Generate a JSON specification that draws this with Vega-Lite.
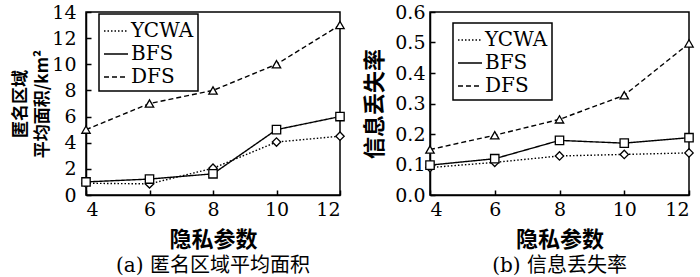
{
  "$schema": "https://vega.github.io/schema/vega-lite/v6.json",
  "background": "white",
  "padding": {"left": 11, "top": 2, "right": 4, "bottom": 0},
  "spacing": 15,
  "resolve": {"scale": {"strokeDash": "independent"}, "legend": {"strokeDash": "independent"}},
  "config": {
    "view": {"stroke": "black", "strokeWidth": 1.5},
    "axis": {
      "domainColor": "black", "domainWidth": 1.5, "tickColor": "black", "tickSize": -5, "tickWidth": 1.5,
      "labelFont": "DejaVu Serif", "labelFontSize": 19, "labelColor": "black",
      "titleFont": "Noto Sans CJK SC", "titleFontSize": 22, "titleColor": "black", "titleFontWeight": "bold",
      "grid": false
    },
    "legend": {
      "labelFont": "DejaVu Serif", "labelFontSize": 20, "labelColor": "black",
      "strokeColor": "black", "strokeWidth": 1.5, "fillColor": "white", "padding": 4, "rowPadding": 0,
      "symbolSize": 576, "labelOffset": 2, "symbolStrokeColor": "black", "symbolStrokeWidth": 1.4
    },
    "title": {"font": "DejaVu Serif, Noto Sans CJK SC", "fontSize": 20, "fontWeight": "normal", "color": "black", "orient": "bottom", "anchor": "middle", "offset": 6}
  },
  "datasets": {
    "a": [
      {"k": 4, "series": "YCWA", "v": 0.9}, {"k": 6, "series": "YCWA", "v": 0.85}, {"k": 8, "series": "YCWA", "v": 2.05}, {"k": 10, "series": "YCWA", "v": 4.05}, {"k": 12, "series": "YCWA", "v": 4.5},
      {"k": 4, "series": "BFS", "v": 1.0}, {"k": 6, "series": "BFS", "v": 1.22}, {"k": 8, "series": "BFS", "v": 1.62}, {"k": 10, "series": "BFS", "v": 5.0}, {"k": 12, "series": "BFS", "v": 6.0},
      {"k": 4, "series": "DFS", "v": 5.0}, {"k": 6, "series": "DFS", "v": 7.0}, {"k": 8, "series": "DFS", "v": 8.0}, {"k": 10, "series": "DFS", "v": 10.0}, {"k": 12, "series": "DFS", "v": 13.0}
    ],
    "b": [
      {"k": 4, "series": "YCWA", "v": 0.09}, {"k": 6, "series": "YCWA", "v": 0.107}, {"k": 8, "series": "YCWA", "v": 0.128}, {"k": 10, "series": "YCWA", "v": 0.133}, {"k": 12, "series": "YCWA", "v": 0.138},
      {"k": 4, "series": "BFS", "v": 0.098}, {"k": 6, "series": "BFS", "v": 0.119}, {"k": 8, "series": "BFS", "v": 0.179}, {"k": 10, "series": "BFS", "v": 0.17}, {"k": 12, "series": "BFS", "v": 0.188},
      {"k": 4, "series": "DFS", "v": 0.149}, {"k": 6, "series": "DFS", "v": 0.196}, {"k": 8, "series": "DFS", "v": 0.248}, {"k": 10, "series": "DFS", "v": 0.327}, {"k": 12, "series": "DFS", "v": 0.497}
    ]
  },
  "hconcat": [
    {
      "width": 254, "height": 183,
      "title": {"text": "(a) 匿名区域平均面积"},
      "data": {"name": "a"},
      "encoding": {
        "x": {"field": "k", "type": "quantitative", "scale": {"domain": [4, 12]}, "axis": {"values": [4, 6, 8, 10, 12], "title": "隐私参数", "titlePadding": 10, "labelPadding": 10}},
        "y": {"field": "v", "type": "quantitative", "scale": {"domain": [0, 14]}, "axis": {"values": [0, 2, 4, 6, 8, 10, 12, 14], "title": ["匿名区域", "平均面积/km²"], "titleFontSize": 17, "titleLineHeight": 22, "titlePadding": 0, "labelPadding": 15}}
      },
      "layer": [
        {
          "mark": {"type": "line", "color": "black", "strokeWidth": 1.4},
          "encoding": {
            "strokeDash": {
              "field": "series", "type": "nominal",
              "scale": {"domain": ["YCWA", "BFS", "DFS"], "range": [[1.5, 2], [1, 0], [5, 3]]},
              "legend": {"title": null, "orient": "none", "legendX": 13, "legendY": 2}
            }
          }
        },
        {
          "mark": {"type": "point", "fill": "white", "stroke": "black", "strokeWidth": 1.3, "opacity": 1, "size": 70,
            "shape": {"expr": "datum.series === 'YCWA' ? 'diamond' : datum.series === 'BFS' ? 'square' : 'triangle-up'"}}
        }
      ]
    },
    {
      "width": 259, "height": 183,
      "title": {"text": "(b) 信息丢失率"},
      "data": {"name": "b"},
      "encoding": {
        "x": {"field": "k", "type": "quantitative", "scale": {"domain": [4, 12]}, "axis": {"values": [4, 6, 8, 10, 12], "title": "隐私参数", "titlePadding": 10, "labelPadding": 10}},
        "y": {"field": "v", "type": "quantitative", "scale": {"domain": [0, 0.6]}, "axis": {"values": [0, 0.1, 0.2, 0.3, 0.4, 0.5, 0.6], "format": ".1f", "title": "信息丢失率", "titlePadding": 8, "labelPadding": 10}}
      },
      "layer": [
        {
          "mark": {"type": "line", "color": "black", "strokeWidth": 1.4},
          "encoding": {
            "strokeDash": {
              "field": "series", "type": "nominal",
              "scale": {"domain": ["YCWA", "BFS", "DFS"], "range": [[1.5, 2], [1, 0], [5, 3]]},
              "legend": {"title": null, "orient": "none", "legendX": 23, "legendY": 11}
            }
          }
        },
        {
          "mark": {"type": "point", "fill": "white", "stroke": "black", "strokeWidth": 1.3, "opacity": 1, "size": 70,
            "shape": {"expr": "datum.series === 'YCWA' ? 'diamond' : datum.series === 'BFS' ? 'square' : 'triangle-up'"}}
        }
      ]
    }
  ]
}
